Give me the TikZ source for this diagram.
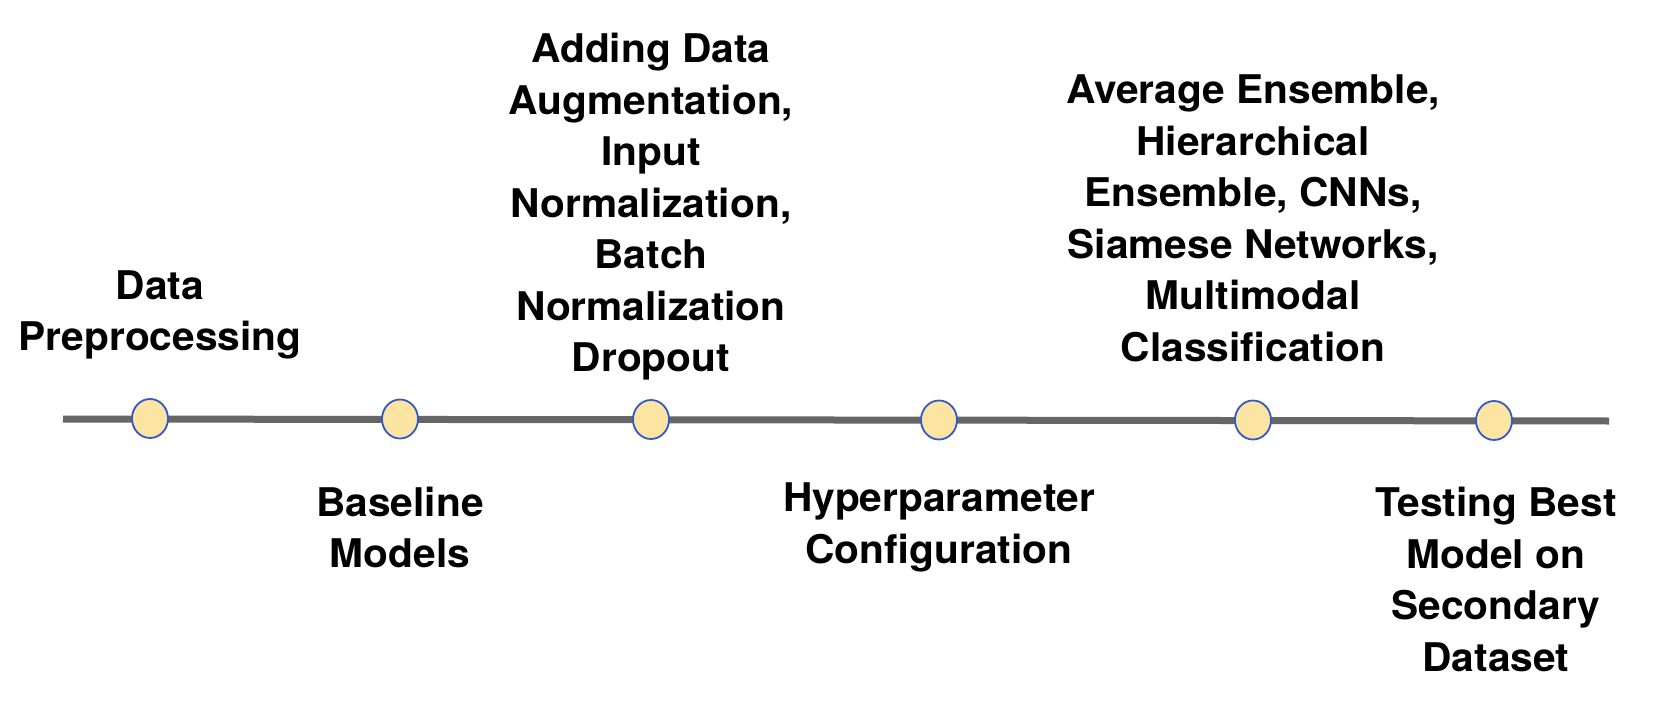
\documentclass[tikz,border=0pt]{standalone}
\usepackage{fontspec}
\setmainfont{TeX Gyre Heros}[FakeStretch=1.03]
\usetikzlibrary{shapes.geometric}
\definecolor{linegray}{HTML}{666666}
\definecolor{dotfill}{HTML}{FCE5A3}
\definecolor{dotedge}{HTML}{3558C8}
\tikzset{
  dot/.style={ellipse, draw=dotedge, line width=1.8pt, fill=dotfill, minimum width=36pt, minimum height=39pt, inner sep=0pt},
  lbl/.style={align=center, font=\bfseries\fontsize{39.5}{51.5}\selectfont, inner sep=0pt}
}
\begin{document}
\begin{tikzpicture}[x=1pt,y=-1pt]
\useasboundingbox (0,0) rectangle (1654,722);
\coordinate (start) at (63,419);
\coordinate (end) at (1609,421);
\draw[linegray, line width=7pt] (start) -- (end);
\node[dot] (d1) at (150,418.5) {};
\node[dot] (d2) at (400,419) {};
\node[dot] (d3) at (651,419.5) {};
\node[dot] (d4) at (939,420) {};
\node[dot] (d5) at (1253,420) {};
\node[dot] (d6) at (1494,420.5) {};
\node[lbl] (t1) at (160,315) {Data\\Preprocessing};
\node[lbl] (t2) at (400,527.5) {Baseline\\Models};
\node[lbl] (t3) at (651,207) {Adding Data\\Augmentation,\\Input\\Normalization,\\Batch\\Normalization\\Dropout};
\node[lbl] (t4) at (939,527.5) {Hyperparameter\\Configuration};
\node[lbl] (t5) at (1253,218.5) {Average Ensemble,\\Hierarchical\\Ensemble, CNNs,\\Siamese Networks,\\Multimodal\\Classification};
\node[lbl] (t6) at (1496,579.5) {Testing Best\\Model on\\Secondary\\Dataset};
\end{tikzpicture}
\end{document}
